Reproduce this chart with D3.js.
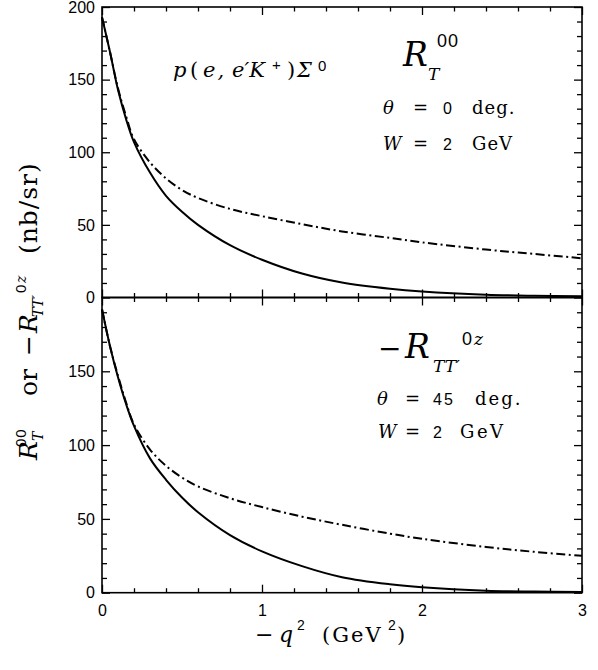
<!DOCTYPE html>
<html>
<head>
<meta charset="utf-8">
<script src="https://cdn.jsdelivr.net/npm/d3@7"></script>
<style>body { margin: 0; background: #fff; }</style>
</head>
<body>
<div id="chart"></div>
<script>
const width = 598;
const height = 670;
const serif = "'DejaVu Serif', 'Liberation Serif', serif";
const sans = "'Liberation Sans', Arial, sans-serif";

// -q^2 (GeV^2) sample points
const q2 = [0, 0.05, 0.1, 0.15, 0.2, 0.3, 0.4, 0.5, 0.6, 0.8, 1.0, 1.25, 1.5, 1.8, 2.0, 2.4, 2.7, 3.0];
// upper panel, R_T^00 (theta = 0)
const rT_solid = [193, 169, 143, 123, 107, 86, 70, 59, 50, 36, 26, 16.5, 10.3, 6, 4.1, 1.9, 1.2, 0.9];
const rT_dashdot = [193, 169, 144, 125, 109, 93, 82, 74, 68.5, 61, 56, 50.5, 45.5, 41, 38, 33, 30, 27];
// lower panel, -R_TT'^0z (theta = 45)
const rTT_solid = [192, 167, 146, 128, 113, 91, 76.5, 64.5, 54.5, 39, 28, 18, 10.5, 5.7, 3.7, 1.4, 0.8, 0.5];
const rTT_dashdot = [192, 167, 147, 129, 114, 97, 86, 78, 72, 64, 58, 51.5, 46, 40, 36.5, 31, 27.7, 25];

const xTicks = [0, 1, 2, 3];
const yTicksTop = [0, 50, 100, 150, 200];
const yTicksBot = [0, 50, 100, 150];

const svg = d3.select('#chart')
  .append('svg')
  .attr('width', width)
  .attr('height', height);

const x = d3.scaleLinear().domain([0, 3]).range([102, 582]);
const yTop = d3.scaleLinear().domain([0, 200]).range([297.5, 7]);
const yBot = d3.scaleLinear().domain([0, 200]).range([592.7, 297.5]);

const xMinor = d3.range(0, 3.001, 0.2).filter(v => Math.abs(v - Math.round(v)) > 0.01);
const yMinor = d3.range(0, 201, 10).filter(v => v % 50 !== 0);

function axis(gen, scale, values, size, transform, labelled) {
  const a = gen(scale).tickValues(values).tickSizeInner(size).tickSizeOuter(0)
    .tickPadding(labelled ? labelled : 3)
    .tickFormat(labelled ? d3.format('d') : '');
  const g = svg.append('g')
    .attr('transform', transform)
    .call(a);
  g.select('.domain').remove();
  g.selectAll('.tick line').attr('stroke', '#000').attr('stroke-width', 1.3);
  g.selectAll('.tick text')
    .style('font-family', sans)
    .attr('font-size', 16)
    .attr('fill', '#000');
  return g;
}

function panel(y, yTicks, bottomLabels) {
  const [y0, y1] = y.range();
  // left
  axis(d3.axisLeft, y, yTicks, -8, `translate(${x(0)},0)`, 7);
  axis(d3.axisLeft, y, yMinor, -5, `translate(${x(0)},0)`);
  // right
  axis(d3.axisRight, y, yTicks, -8, `translate(${x(3)},0)`);
  axis(d3.axisRight, y, yMinor, -5, `translate(${x(3)},0)`);
  // top
  axis(d3.axisTop, x, xTicks, -8, `translate(0,${y1})`);
  axis(d3.axisTop, x, xMinor, -4.5, `translate(0,${y1})`);
  // bottom
  axis(d3.axisBottom, x, xTicks, -8, `translate(0,${y0})`, bottomLabels ? 12 : 0);
  axis(d3.axisBottom, x, xMinor, -4.5, `translate(0,${y0})`);

  svg.append('rect')
    .attr('x', x(0)).attr('y', y1)
    .attr('width', x(3) - x(0)).attr('height', y0 - y1)
    .attr('fill', 'none')
    .attr('stroke', '#000')
    .attr('stroke-width', 1.6);
}

function curve(y, vals, dash) {
  const line = d3.line()
    .x((d, i) => x(q2[i]))
    .y(d => y(d))
    .curve(d3.curveCatmullRom.alpha(0.5));
  svg.append('path')
    .datum(vals)
    .attr('d', line)
    .attr('fill', 'none')
    .attr('stroke', '#000')
    .attr('stroke-width', 2)
    .attr('stroke-dasharray', dash ? '9,3.5,2,3.5' : null);
}

panel(yTop, yTicksTop, false);
panel(yBot, yTicksBot, true);

curve(yTop, rT_solid, false);
curve(yTop, rT_dashdot, true);
curve(yBot, rTT_solid, false);
curve(yBot, rTT_dashdot, true);

// text pieces
function put(parent, px, py, str, size, opt = {}) {
  return parent.append('text')
    .attr('x', px).attr('y', py)
    .style('font-family', opt.sans ? sans : serif)
    .style('font-style', opt.it ? 'italic' : 'normal')
    .attr('font-size', size)
    .attr('letter-spacing', opt.ls || 0)
    .attr('fill', '#000')
    .text(str);
}

// reaction
put(svg, 173, 77, 'p', 21, { it: true });
put(svg, 190, 77, '(', 21);
put(svg, 203, 77, 'e,', 21, { it: true, ls: 2 });
put(svg, 232, 77, 'e′K', 21, { it: true });
put(svg, 272, 70, '+', 15, { sans: true });
put(svg, 287, 77, ')', 21);
put(svg, 297, 77, 'Σ', 21, { it: true });
put(svg, 318, 71, '0', 15, { sans: true });

// upper panel legend
put(svg, 403, 66, 'R', 33, { it: true });
put(svg, 428, 80, 'T', 17, { it: true });
put(svg, 437, 47, '00', 18, { sans: true, ls: 1 });
put(svg, 383, 114, 'θ', 18, { it: true });
put(svg, 413, 114, '=', 18);
put(svg, 443, 114, '0', 16, { sans: true });
put(svg, 472, 114, 'deg.', 18, { ls: 1 });
put(svg, 383, 150, 'W', 18, { it: true });
put(svg, 413, 150, '=', 18);
put(svg, 443, 150, '2', 16, { sans: true });
put(svg, 472, 150, 'GeV', 18, { ls: 1 });

// lower panel legend
put(svg, 378, 358, '−', 28);
put(svg, 405, 358, 'R', 33, { it: true });
put(svg, 433, 372, 'TT′', 17, { it: true });
put(svg, 462, 345, '0', 18, { sans: true });
put(svg, 474, 345, 'z', 17, { it: true });
put(svg, 377, 405, 'θ', 18, { it: true });
put(svg, 405, 405, '=', 18);
put(svg, 433, 405, '45', 16, { sans: true, ls: 2 });
put(svg, 475, 405, 'deg.', 18, { ls: 2 });
put(svg, 378, 438, 'W', 18, { it: true });
put(svg, 405, 438, '=', 18);
put(svg, 433, 438, '2', 16, { sans: true });
put(svg, 460, 438, 'GeV', 18, { ls: 2.5 });

// x axis title
put(svg, 255, 642, '−', 22);
put(svg, 279, 642, 'q', 22, { it: true });
put(svg, 297, 630, '2', 14, { sans: true });
put(svg, 322, 642, '(GeV', 21, { ls: 2 });
put(svg, 388, 630, '2', 14, { sans: true });
put(svg, 397, 642, ')', 21);

// y axis title, rotated
const yt = svg.append('g').attr('transform', 'translate(37,460) rotate(-90)');
put(yt, 0, 0, 'R', 25, { it: true });
put(yt, 19, 6, 'T', 14, { it: true });
put(yt, 13, -11, '00', 15, { sans: true, ls: 1 });
put(yt, 64, 0, 'or', 25);
put(yt, 104, 0, '−', 25);
put(yt, 127, 0, 'R', 25, { it: true });
put(yt, 143, 6, 'TT′', 14, { it: true });
put(yt, 167, -11, '0', 15, { sans: true });
put(yt, 177, -11, 'z', 14, { it: true });
put(yt, 206, 0, '(nb/sr)', 25, { ls: 1 });
</script>
</body>
</html>
